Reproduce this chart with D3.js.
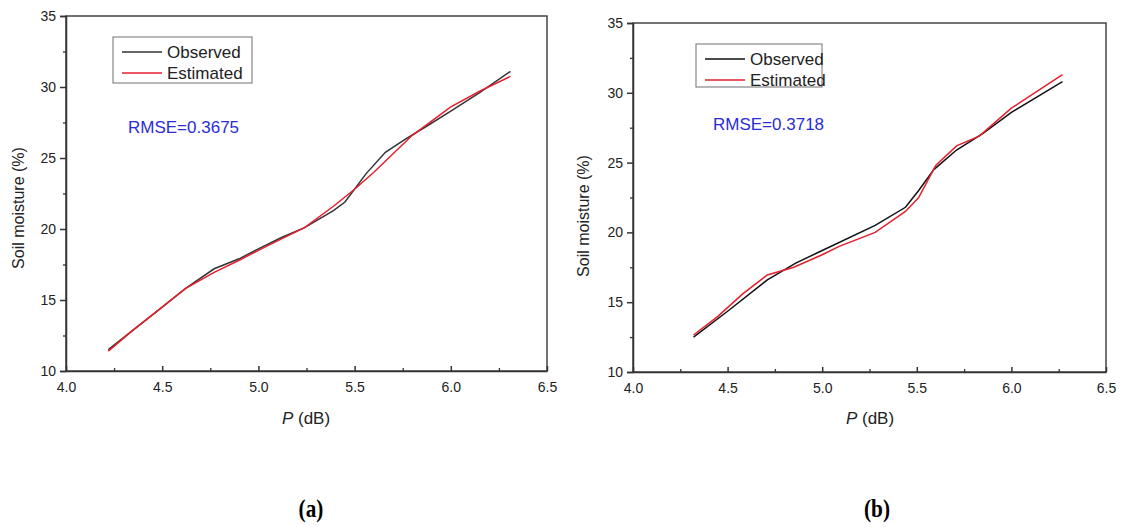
<!DOCTYPE html>
<html>
<head>
<meta charset="utf-8">
<script src="https://cdn.jsdelivr.net/npm/d3@7"></script>
<style>
  body { margin: 0; background: #fff; }
  svg { display: block; font-family: "Liberation Sans", Arial, sans-serif; }
  .tick text { fill: #222; }
</style>
</head>
<body>
<svg id="chart" width="1123" height="527"></svg>
<script>
// panel (a)
const pObsA = [4.22, 4.35, 4.5, 4.62, 4.77, 4.9, 5.0, 5.12, 5.24, 5.39, 5.45, 5.56, 5.66, 5.76, 5.87, 6.0, 6.15, 6.31];
const obsA = [11.5, 12.9, 14.5, 15.8, 17.2, 17.9, 18.6, 19.4, 20.1, 21.3, 21.9, 23.9, 25.4, 26.3, 27.2, 28.3, 29.6, 31.1];
const pEstA = [4.22, 4.35, 4.5, 4.62, 4.77, 4.9, 5.0, 5.12, 5.24, 5.39, 5.5, 5.6, 5.7, 5.8, 5.9, 6.0, 6.15, 6.31];
const estA = [11.4, 12.9, 14.5, 15.8, 16.95, 17.8, 18.5, 19.3, 20.1, 21.6, 22.8, 24.0, 25.3, 26.6, 27.6, 28.6, 29.7, 30.75];

// panel (b)
const pObsB = [4.32, 4.5, 4.71, 4.86, 5.0, 5.28, 5.44, 5.51, 5.59, 5.71, 5.85, 6.0, 6.27];
const obsB = [12.5, 14.35, 16.6, 17.8, 18.7, 20.5, 21.8, 23.0, 24.5, 25.9, 27.1, 28.6, 30.8];
const pEstB = [4.32, 4.45, 4.58, 4.71, 4.85, 5.0, 5.09, 5.28, 5.44, 5.51, 5.6, 5.71, 5.83, 6.0, 6.27];
const estB = [12.65, 14.0, 15.6, 16.95, 17.5, 18.4, 19.0, 20.0, 21.5, 22.5, 24.8, 26.2, 26.9, 28.9, 31.3];

const xTicks = [4.0, 4.5, 5.0, 5.5, 6.0, 6.5];
const yTicks = [10, 15, 20, 25, 30, 35];
const seriesNames = ["Observed", "Estimated"];

const svg = d3.select("#chart");

function drawPanel(opt) {
  const g = svg.append("g");
  const x = d3.scaleLinear().domain([4.0, 6.5]).range([opt.left, opt.right]);
  const y = d3.scaleLinear().domain([10, 35]).range([opt.bottom, opt.top]);

  // frame
  g.append("rect")
    .attr("x", opt.left).attr("y", opt.top)
    .attr("width", opt.right - opt.left).attr("height", opt.bottom - opt.top)
    .attr("fill", "none").attr("stroke", "#444").attr("stroke-width", 1.5);

  // minor ticks
  const xMinor = d3.range(4.25, 6.5, 0.5);
  const yMinor = d3.range(12.5, 35, 5);
  g.append("g")
    .attr("transform", "translate(0," + opt.bottom + ")")
    .call(d3.axisTop(x).tickValues(xMinor).tickSize(3).tickFormat(""))
    .call((a) => a.select(".domain").remove())
    .selectAll("line").attr("stroke", "#333").attr("stroke-width", 1.3);
  g.append("g")
    .attr("transform", "translate(" + opt.left + ",0)")
    .call(d3.axisLeft(y).tickValues(yMinor).tickSize(3).tickFormat(""))
    .call((a) => a.select(".domain").remove())
    .selectAll("line").attr("stroke", "#333").attr("stroke-width", 1.3);

  // major x axis (ticks inward)
  const xAxis = g.append("g")
    .attr("transform", "translate(0," + opt.bottom + ")")
    .call(d3.axisBottom(x).tickValues(xTicks).tickSize(0).tickPadding(11).tickFormat(d3.format(".1f")));
  xAxis.select(".domain").attr("stroke", "#333").attr("stroke-width", 1.5);
  xAxis.selectAll("text").attr("font-size", 14);
  g.append("g")
    .attr("transform", "translate(0," + opt.bottom + ")")
    .call(d3.axisTop(x).tickValues(xTicks).tickSize(5).tickFormat(""))
    .call((a) => a.select(".domain").remove())
    .selectAll("line").attr("stroke", "#333").attr("stroke-width", 1.5);

  // major y axis (ticks outward)
  const yAxis = g.append("g")
    .attr("transform", "translate(" + opt.left + ",0)")
    .call(d3.axisLeft(y).tickValues(yTicks).tickSize(6).tickPadding(4));
  yAxis.select(".domain").attr("stroke", "#333").attr("stroke-width", 1.5);
  yAxis.selectAll("line").attr("stroke", "#333").attr("stroke-width", 1.5);
  yAxis.selectAll("text").attr("font-size", 14);

  // axis titles
  const xt = g.append("text")
    .attr("x", opt.xTitleX).attr("y", 424)
    .attr("text-anchor", "middle").attr("font-size", 17).attr("fill", "#222");
  xt.append("tspan").attr("font-style", "italic").text("P");
  xt.append("tspan").text(" (dB)");

  g.append("text")
    .attr("transform", "translate(" + opt.yTitleX + "," + opt.yTitleY + ") rotate(-90)")
    .attr("text-anchor", "middle").attr("font-size", 16).attr("fill", "#222")
    .text("Soil moisture (%)");

  // lines
  const line = d3.line().x((d) => x(d[0])).y((d) => y(d[1]));
  const obs = opt.pObs.map((p, i) => [p, opt.obs[i]]);
  const est = opt.pEst.map((p, i) => [p, opt.est[i]]);
  g.append("path").datum(obs).attr("d", line)
    .attr("fill", "none").attr("stroke", opt.obsColor).attr("stroke-width", 1.5);
  g.append("path").datum(est).attr("d", line)
    .attr("fill", "none").attr("stroke", "#e3202c").attr("stroke-width", 1.5);

  // legend
  const lg = g.append("g");
  lg.append("rect")
    .attr("x", opt.legX).attr("y", opt.legY)
    .attr("width", opt.legW).attr("height", opt.legH)
    .attr("fill", "#fff").attr("stroke", "#888").attr("stroke-width", 1.2);
  seriesNames.forEach(function (name, i) {
    const yy = opt.legY + 15 + i * 21;
    lg.append("line")
      .attr("x1", opt.legX + 9).attr("x2", opt.legX + 49)
      .attr("y1", yy).attr("y2", yy)
      .attr("stroke", i === 0 ? opt.obsColor : "#e3202c").attr("stroke-width", 1.5);
    lg.append("text")
      .attr("x", opt.legX + 54).attr("y", yy + 6)
      .attr("font-size", 17).attr("fill", "#222")
      .text(name);
  });

  g.append("text")
    .attr("x", opt.rmseX).attr("y", opt.rmseY)
    .attr("font-size", 17).attr("fill", "#2b2bd9")
    .text(opt.rmse);

  // caption, narrow bold serif
  svg.append("text")
    .attr("transform", "translate(" + opt.capX + ",517) scale(0.85,1)")
    .attr("text-anchor", "middle")
    .attr("font-family", "'Liberation Serif', 'Times New Roman', serif")
    .attr("font-weight", "bold").attr("font-size", 25).attr("fill", "#000")
    .text(opt.caption);
}

drawPanel({
  left: 66, right: 547, top: 16, bottom: 371,
  pObs: pObsA, obs: obsA, pEst: pEstA, est: estA,
  obsColor: "#333",
  xTitleX: 306, yTitleX: 24, yTitleY: 208,
  legX: 113, legY: 37, legW: 139, legH: 46,
  rmseX: 128, rmseY: 133, rmse: "RMSE=0.3675",
  capX: 311, caption: "(a)"
});

drawPanel({
  left: 633, right: 1106, top: 23, bottom: 372,
  pObs: pObsB, obs: obsB, pEst: pEstB, est: estB,
  obsColor: "#111",
  xTitleX: 870, yTitleX: 589, yTitleY: 216,
  legX: 696, legY: 44, legW: 126, legH: 43,
  rmseX: 713, rmseY: 130, rmse: "RMSE=0.3718",
  capX: 877, caption: "(b)"
});
</script>
</body>
</html>
